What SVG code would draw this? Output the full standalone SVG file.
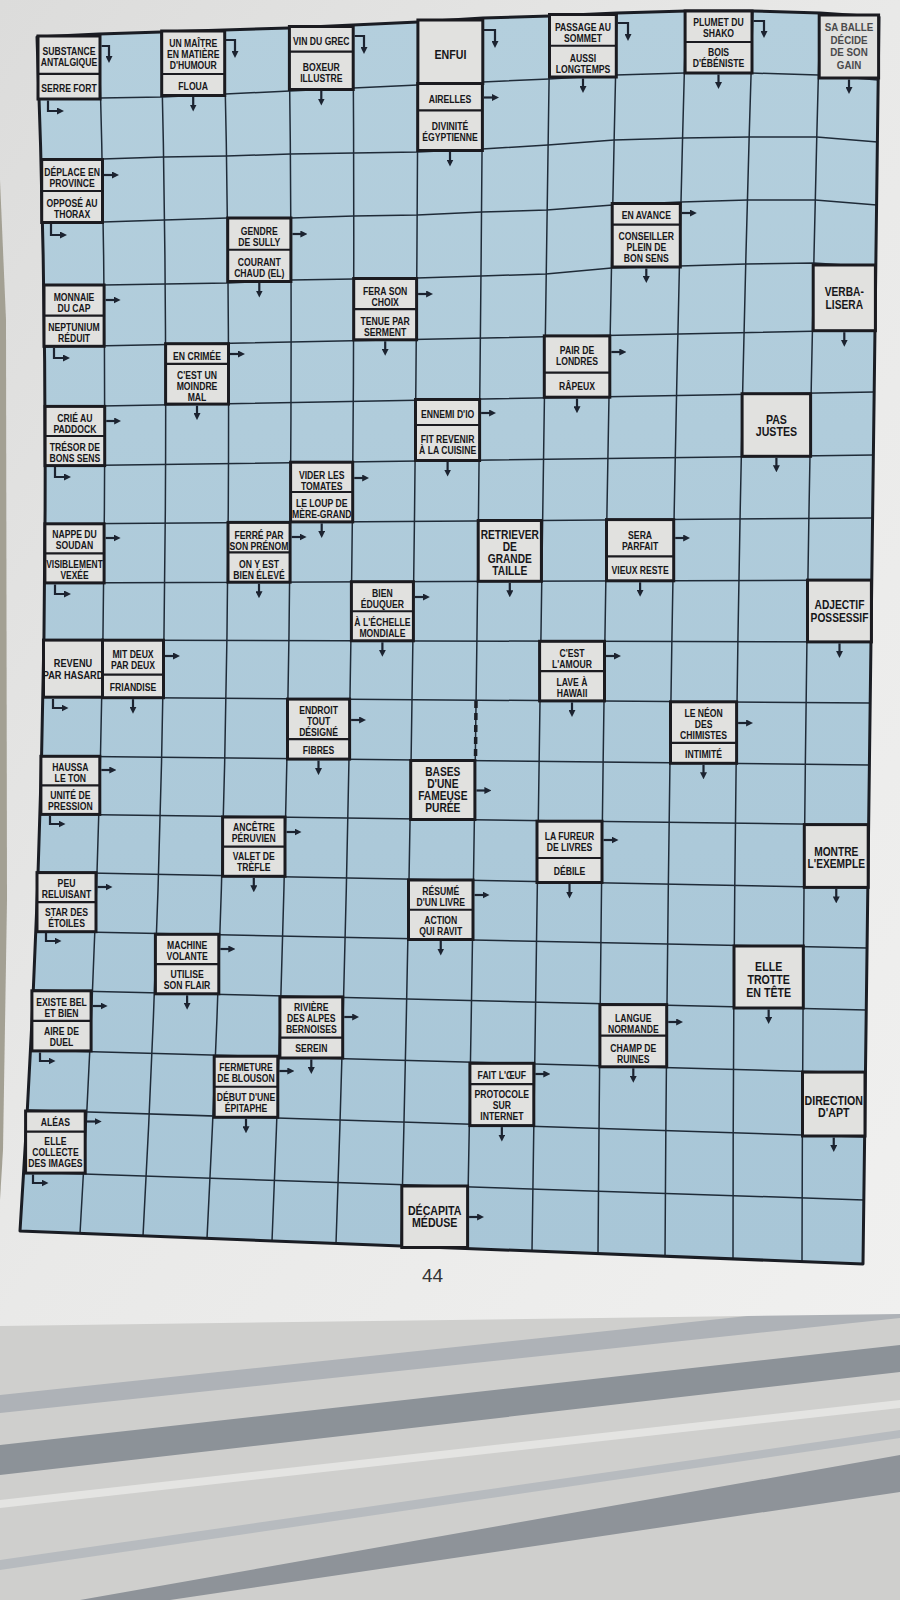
<svg xmlns="http://www.w3.org/2000/svg" width="900" height="1600" viewBox="0 0 900 1600">
<defs>
<linearGradient id="pg" x1="0" y1="0" x2="1" y2="1"><stop offset="0" stop-color="#dcdcdb"/><stop offset="0.5" stop-color="#e9e9e8"/><stop offset="1" stop-color="#f0f0ef"/></linearGradient>
<linearGradient id="bl" x1="0" y1="0" x2="0" y2="1"><stop offset="0" stop-color="#b4cfdd"/><stop offset="1" stop-color="#a8c6d7"/></linearGradient>
<marker id="ah" viewBox="0 0 10 10" refX="5" refY="5" markerWidth="7" markerHeight="7" markerUnits="userSpaceOnUse" orient="auto"><path d="M0,0 L10,5 L0,10 Z" fill="#1c2330"/></marker>
<style>
.gl{fill:none;stroke:#1f2b38;stroke-width:1.5}
.border{fill:none;stroke:#1a1d24;stroke-width:3;stroke-linejoin:round}
.box{fill:#e1e1df;stroke:#1b1b20;stroke-width:3}
.dv{stroke:#1b1b20;stroke-width:2.2}
.t{font-family:"Liberation Sans",Arial,sans-serif;font-weight:bold;font-size:10.8px;fill:#161619;text-anchor:middle;dominant-baseline:central}
.m{font-size:11.5px}
.b{font-size:12.5px}
.a{fill:none;stroke:#1c2330;stroke-width:2.2;marker-end:url(#ah)}
</style>
</defs>
<g id="background">
<rect width="900" height="1600" fill="#cfcfcd"/>
<polygon points="0,1395 900,1300 900,1318 0,1413" fill="#aeb2b7"/>
<polygon points="0,1445 900,1345 900,1372 0,1475" fill="#8c9298"/>
<polygon points="0,1500 900,1400 900,1408 0,1508" fill="#e4e4e2"/>
<polygon points="80,1600 900,1455 900,1492 170,1600" fill="#8e9399"/>
<polygon points="0,1560 900,1430 900,1438 0,1570" fill="#b7bbbf"/>
<path d="M0,0 H900 V1314 L0,1326 Z" fill="url(#pg)"/>
<polygon points="0,180 6,320 7,900 3,1150 0,1200" fill="#a3a093"/>
<text x="432.5" y="1282" font-family="Liberation Sans,Arial,sans-serif" font-size="19" fill="#333" text-anchor="middle">44</text>
</g>
<g id="grid">
<path d="M37,37 L99,34 L161,32 L224,30 L289,28 L353,25 L418,22 L483,18 L550,16 L617,13 L686,11 L753,11 L820,13 L879,17 Q871,640.5 863,1264 L20,1231 Q59.5,634 37,37 Z" fill="url(#bl)"/>
<path class="gl" d="M99,34 Q116.5,633.8 80,1233.5 M161,32 Q176,634 143,1236.1 M224,30 Q238.5,634.3 207,1238.6 M289,28 Q297.5,634.6 272,1241.2 M353,25 Q357.5,634.4 336,1243.7 M418,22 Q416.5,634.1 401,1246.2 M483,18 Q479,633.4 467,1248.8 M550,16 Q539,633.7 532,1251.3 M617,13 Q602.5,633.4 598,1253.8 M686,11 Q668.5,633.7 665,1256.4 M753,11 Q733,635 733,1258.9 M820,13 Q803,637.3 802,1261.5"/>
<path class="gl" d="M39,99 L100.6,98 L162.4,97 L225.3,94 L289.8,91 L353.4,88 L417.8,85 L482.6,82 L548.9,79 L615.6,75 L684.3,73 L751.1,73 L818.3,75 L878.2,80 M40.9,160 L102,159 L163.5,157 L226.4,156 L290.4,154 L353.6,153 L417.6,152 L482.1,149 L547.8,145 L614.2,140 L682.6,138 L749.2,137 L816.8,137 L877.4,142 M42.4,223 L103,222 L164.4,220 L227.3,218 L290.8,218 L353.8,216 L417.2,215 L481.6,212 L546.8,210 L612.9,205 L681.1,202 L747.5,200 L815.3,200 L876.6,205 M43.5,285 L103.8,285 L165.1,284 L228,283 L291,280 L353.8,279 L416.8,278 L481.1,276 L545.8,274 L611.6,268 L679.6,266 L745.8,264 L813.8,263 L875.8,267"/>
<path class="gl" d="M44.4,347 L875,330 M44.9,407 L874.2,392 M45.2,466 L873.4,455 M45.1,524 L872.6,518 M44.7,583 L871.8,580 M44,640 L871,642 M43,697 L870.2,703 M41.7,756 L869.4,765 M40.1,814 L868.6,825 M38.1,872 L867.8,888 M35.9,931 L867,948 M33.3,990 L866.2,1010 M30.5,1050 L865.4,1073 M27.3,1110 L864.6,1137 M23.8,1172 L863.8,1200"/>
<path class="border" d="M37,37 L99,34 L161,32 L224,30 L289,28 L353,25 L418,22 L483,18 L550,16 L617,13 L686,11 L753,11 L820,13 L879,17 Q871,640.5 863,1264 L20,1231 Q59.5,634 37,37 Z"/>
<path d="M476,701 L475.5,760" stroke="#1a1d24" stroke-width="3.5" stroke-dasharray="7 5" fill="none"/>
</g>
<g id="clue-c0-r0"><rect class="box" x="38" y="36" width="62" height="63"/><line class="dv" x1="38" y1="73.8" x2="100" y2="73.8"/><text class="t" transform="matrix(.8 0 0 1 69 0)"><tspan x="0" y="51">SUBSTANCE</tspan><tspan x="0" y="62">ANTALGIQUE</tspan></text><text class="t" transform="matrix(.8 0 0 1 69 0)"><tspan x="0" y="88">SERRE FORT</tspan></text></g>
<g id="clue-c2-r0"><rect class="box" x="161.7" y="31" width="63" height="64.5"/><line class="dv" x1="161.7" y1="74" x2="224.7" y2="74"/><text class="t" transform="matrix(.8 0 0 1 193.2 0)"><tspan x="0" y="43">UN MAÎTRE</tspan><tspan x="0" y="54">EN MATIÈRE</tspan><tspan x="0" y="65">D'HUMOUR</tspan></text><text class="t" transform="matrix(.8 0 0 1 193.2 0)"><tspan x="0" y="86">FLOUA</tspan></text></g>
<g id="clue-c4-r0"><rect class="box" x="289.4" y="26.5" width="63.8" height="63"/><line class="dv" x1="289.4" y1="51.7" x2="353.2" y2="51.7"/><text class="t" transform="matrix(.8 0 0 1 321.3 0)"><tspan x="0" y="40.6">VIN DU GREC</tspan></text><text class="t" transform="matrix(.8 0 0 1 321.3 0)"><tspan x="0" y="66.6">BOXEUR</tspan><tspan x="0" y="77.6">ILLUSTRE</tspan></text></g>
<g id="clue-c6-r0"><rect class="box" x="417.9" y="20" width="64.9" height="63.5"/><text class="t b" transform="matrix(.85 0 0 1 450.4 0)"><tspan x="0" y="53.5">ENFUI</tspan></text></g>
<g id="clue-c6-r1"><rect class="box" x="417.7" y="83.5" width="64.7" height="67"/><line class="dv" x1="417.7" y1="110.3" x2="482.4" y2="110.3"/><text class="t" transform="matrix(.8 0 0 1 450 0)"><tspan x="0" y="98.4">AIRELLES</tspan></text><text class="t" transform="matrix(.8 0 0 1 450 0)"><tspan x="0" y="126">DIVINITÉ</tspan><tspan x="0" y="137">ÉGYPTIENNE</tspan></text></g>
<g id="clue-c8-r0"><rect class="box" x="549.5" y="14.5" width="66.8" height="62.5"/><line class="dv" x1="549.5" y1="45.75" x2="616.3" y2="45.75"/><text class="t" transform="matrix(.8 0 0 1 583 0)"><tspan x="0" y="26.1">PASSAGE AU</tspan><tspan x="0" y="37.1">SOMMET</tspan></text><text class="t" transform="matrix(.8 0 0 1 583 0)"><tspan x="0" y="57.4">AUSSI</tspan><tspan x="0" y="68.4">LONGTEMPS</tspan></text></g>
<g id="clue-c10-r0"><rect class="box" x="685.1" y="11" width="66.9" height="62"/><line class="dv" x1="685.1" y1="42" x2="752" y2="42"/><text class="t" transform="matrix(.8 0 0 1 718.5 0)"><tspan x="0" y="22">PLUMET DU</tspan><tspan x="0" y="33">SHAKO</tspan></text><text class="t" transform="matrix(.8 0 0 1 718.5 0)"><tspan x="0" y="52">BOIS</tspan><tspan x="0" y="63">D'ÉBÉNISTE</tspan></text></g>
<g id="clue-c12-r0"><rect class="box" x="819.2" y="15" width="59.4" height="63"/><text class="t" transform="matrix(.85 0 0 1 849 0)" style="font-size:11.5px;fill:#4a4a4c"><tspan x="0" y="27">SA BALLE</tspan><tspan x="0" y="39.5">DÉCIDE</tspan><tspan x="0" y="52">DE SON</tspan><tspan x="0" y="64.5">GAIN</tspan></text></g>
<g id="clue-c0-r2"><rect class="box" x="41.7" y="159.5" width="60.8" height="63"/><line class="dv" x1="41.7" y1="191" x2="102.5" y2="191"/><text class="t" transform="matrix(.8 0 0 1 72.1 0)"><tspan x="0" y="172">DÉPLACE EN</tspan><tspan x="0" y="183">PROVINCE</tspan></text><text class="t" transform="matrix(.8 0 0 1 72.1 0)"><tspan x="0" y="203">OPPOSÉ AU</tspan><tspan x="0" y="214">THORAX</tspan></text></g>
<g id="clue-c3-r3"><rect class="box" x="227.7" y="218" width="63.2" height="63.5"/><line class="dv" x1="227.7" y1="249.75" x2="290.9" y2="249.75"/><text class="t" transform="matrix(.8 0 0 1 259.3 0)"><tspan x="0" y="230.5">GENDRE</tspan><tspan x="0" y="241.5">DE SULLY</tspan></text><text class="t" transform="matrix(.8 0 0 1 259.3 0)"><tspan x="0" y="261.6">COURANT</tspan><tspan x="0" y="272.6">CHAUD (EL)</tspan></text></g>
<g id="clue-c9-r3"><rect class="box" x="612.2" y="203.5" width="68.1" height="63.5"/><line class="dv" x1="612.2" y1="224.7" x2="680.3" y2="224.7"/><text class="t" transform="matrix(.8 0 0 1 646.3 0)"><tspan x="0" y="215">EN AVANCE</tspan></text><text class="t" transform="matrix(.8 0 0 1 646.3 0)"><tspan x="0" y="235.5">CONSEILLER</tspan><tspan x="0" y="246.5">PLEIN DE</tspan><tspan x="0" y="257.5">BON SENS</tspan></text></g>
<g id="clue-c0-r4"><rect class="box" x="44" y="285" width="60.1" height="61.3"/><line class="dv" x1="44" y1="315.7" x2="104.1" y2="315.7"/><text class="t" transform="matrix(.8 0 0 1 74 0)"><tspan x="0" y="296.3">MONNAIE</tspan><tspan x="0" y="307.3">DU CAP</tspan></text><text class="t" transform="matrix(.8 0 0 1 74 0)"><tspan x="0" y="327">NEPTUNIUM</tspan><tspan x="0" y="338">RÉDUIT</tspan></text></g>
<g id="clue-c5-r4"><rect class="box" x="353.7" y="278.5" width="62.9" height="61.3"/><line class="dv" x1="353.7" y1="309.2" x2="416.6" y2="309.2"/><text class="t" transform="matrix(.8 0 0 1 385.2 0)"><tspan x="0" y="290.5">FERA SON</tspan><tspan x="0" y="301.5">CHOIX</tspan></text><text class="t" transform="matrix(.8 0 0 1 385.2 0)"><tspan x="0" y="321">TENUE PAR</tspan><tspan x="0" y="332">SERMENT</tspan></text></g>
<g id="clue-c12-r4"><rect class="box" x="813.2" y="265" width="62.2" height="65.7"/><text class="t" transform="matrix(.85 0 0 1 844.3 0)" style="font-size:12px"><tspan x="0" y="292">VERBA-</tspan><tspan x="0" y="304.5">LISERA</tspan></text></g>
<g id="clue-c2-r5"><rect class="box" x="165.6" y="343.7" width="62.9" height="60.4"/><line class="dv" x1="165.6" y1="363.8" x2="228.5" y2="363.8"/><text class="t" transform="matrix(.8 0 0 1 197 0)"><tspan x="0" y="355.5">EN CRIMÉE</tspan></text><text class="t" transform="matrix(.8 0 0 1 197 0)"><tspan x="0" y="375">C'EST UN</tspan><tspan x="0" y="386">MOINDRE</tspan><tspan x="0" y="397">MAL</tspan></text></g>
<g id="clue-c8-r5"><rect class="box" x="544.3" y="335.9" width="65.5" height="61.3"/><line class="dv" x1="544.3" y1="372.7" x2="609.8" y2="372.7"/><text class="t" transform="matrix(.8 0 0 1 577 0)"><tspan x="0" y="349.5">PAIR DE</tspan><tspan x="0" y="360.5">LONDRES</tspan></text><text class="t" transform="matrix(.8 0 0 1 577 0)"><tspan x="0" y="386">RÂPEUX</tspan></text></g>
<g id="clue-c0-r6"><rect class="box" x="45.1" y="406.4" width="59.6" height="59.2"/><line class="dv" x1="45.1" y1="436" x2="104.7" y2="436"/><text class="t" transform="matrix(.8 0 0 1 74.9 0)"><tspan x="0" y="417.5">CRIÉ AU</tspan><tspan x="0" y="428.5">PADDOCK</tspan></text><text class="t" transform="matrix(.8 0 0 1 74.9 0)"><tspan x="0" y="446.5">TRÉSOR DE</tspan><tspan x="0" y="457.5">BONS SENS</tspan></text></g>
<g id="clue-c6-r6"><rect class="box" x="415.5" y="399.5" width="64.1" height="61"/><line class="dv" x1="415.5" y1="425" x2="479.6" y2="425"/><text class="t" transform="matrix(.8 0 0 1 447.6 0)"><tspan x="0" y="414">ENNEMI D'IO</tspan></text><text class="t" transform="matrix(.8 0 0 1 447.6 0)"><tspan x="0" y="439">FIT REVENIR</tspan><tspan x="0" y="450">À LA CUISINE</tspan></text></g>
<g id="clue-c11-r6"><rect class="box" x="742.1" y="393.7" width="68.5" height="62.6"/><text class="t b" transform="matrix(.85 0 0 1 776.4 0)"><tspan x="0" y="418.5">PAS</tspan><tspan x="0" y="431">JUSTES</tspan></text></g>
<g id="clue-c4-r7"><rect class="box" x="290.6" y="462.2" width="62.1" height="59.7"/><line class="dv" x1="290.6" y1="492" x2="352.7" y2="492"/><text class="t" transform="matrix(.8 0 0 1 321.7 0)"><tspan x="0" y="474.5">VIDER LES</tspan><tspan x="0" y="485.5">TOMATES</tspan></text><text class="t" transform="matrix(.8 0 0 1 321.7 0)"><tspan x="0" y="503">LE LOUP DE</tspan><tspan x="0" y="514">MÈRE-GRAND</tspan></text></g>
<g id="clue-c0-r8"><rect class="box" x="44.9" y="523.8" width="59.2" height="59.1"/><line class="dv" x1="44.9" y1="553.35" x2="104.1" y2="553.35"/><text class="t" transform="matrix(.8 0 0 1 74.5 0)"><tspan x="0" y="534">NAPPE DU</tspan><tspan x="0" y="545">SOUDAN</tspan></text><text class="t" transform="matrix(.78 0 0 1 74.5 0)"><tspan x="0" y="563.5">VISIBLEMENT</tspan><tspan x="0" y="574.5">VEXÉE</tspan></text></g>
<g id="clue-c3-r8"><rect class="box" x="228" y="522.4" width="62.1" height="59.8"/><line class="dv" x1="228" y1="552.3" x2="290.1" y2="552.3"/><text class="t" transform="matrix(.8 0 0 1 259 0)"><tspan x="0" y="534.5">FERRÉ PAR</tspan><tspan x="0" y="545.5">SON PRÉNOM</tspan></text><text class="t" transform="matrix(.8 0 0 1 259 0)"><tspan x="0" y="563.5">ON Y EST</tspan><tspan x="0" y="574.5">BIEN ÉLEVÉ</tspan></text></g>
<g id="clue-c7-r8"><rect class="box" x="478.2" y="520.5" width="63.2" height="60.8"/><text class="t" transform="matrix(.85 0 0 1 509.8 0)" style="font-size:12px"><tspan x="0" y="535">RETRIEVER</tspan><tspan x="0" y="547">DE</tspan><tspan x="0" y="559">GRANDE</tspan><tspan x="0" y="571">TAILLE</tspan></text></g>
<g id="clue-c9-r8"><rect class="box" x="606.5" y="519.6" width="67.2" height="61.2"/><line class="dv" x1="606.5" y1="556.3" x2="673.7" y2="556.3"/><text class="t" transform="matrix(.8 0 0 1 640.1 0)"><tspan x="0" y="535">SERA</tspan><tspan x="0" y="546">PARFAIT</tspan></text><text class="t" transform="matrix(.8 0 0 1 640.1 0)"><tspan x="0" y="569.5">VIEUX RESTE</tspan></text></g>
<g id="clue-c5-r9"><rect class="box" x="351.4" y="581.7" width="62" height="59.1"/><line class="dv" x1="351.4" y1="611.25" x2="413.4" y2="611.25"/><text class="t" transform="matrix(.8 0 0 1 382.4 0)"><tspan x="0" y="593">BIEN</tspan><tspan x="0" y="604">ÉDUQUER</tspan></text><text class="t" transform="matrix(.8 0 0 1 382.4 0)"><tspan x="0" y="622">À L'ÉCHELLE</tspan><tspan x="0" y="633">MONDIALE</tspan></text></g>
<g id="clue-c12-r9"><rect class="box" x="807.5" y="580.1" width="63.9" height="61.8"/><text class="t" transform="matrix(.85 0 0 1 839.5 0)" style="font-size:12px"><tspan x="0" y="605">ADJECTIF</tspan><tspan x="0" y="617.5">POSSESSIF</tspan></text></g>
<g id="clue-c0-r10"><rect class="box" x="43.5" y="640.1" width="59" height="57.1"/><text class="t m" transform="matrix(.8 0 0 1 73 0)"><tspan x="0" y="663">REVENU</tspan><tspan x="0" y="674.5">PAR HASARD</tspan></text></g>
<g id="clue-c1-r10"><rect class="box" x="102.5" y="640.2" width="61" height="57.5"/><line class="dv" x1="102.5" y1="674.7" x2="163.5" y2="674.7"/><text class="t" transform="matrix(.8 0 0 1 133 0)"><tspan x="0" y="653.5">MIT DEUX</tspan><tspan x="0" y="664.5">PAR DEUX</tspan></text><text class="t" transform="matrix(.8 0 0 1 133 0)"><tspan x="0" y="687">FRIANDISE</tspan></text></g>
<g id="clue-c8-r10"><rect class="box" x="539.6" y="641.3" width="64.9" height="59.6"/><line class="dv" x1="539.6" y1="671.1" x2="604.5" y2="671.1"/><text class="t" transform="matrix(.8 0 0 1 572 0)"><tspan x="0" y="652.5">C'EST</tspan><tspan x="0" y="663.5">L'AMOUR</tspan></text><text class="t" transform="matrix(.8 0 0 1 572 0)"><tspan x="0" y="682">LAVE À</tspan><tspan x="0" y="693">HAWAII</tspan></text></g>
<g id="clue-c4-r11"><rect class="box" x="287.5" y="699.1" width="62.1" height="60"/><line class="dv" x1="287.5" y1="739.1" x2="349.6" y2="739.1"/><text class="t" transform="matrix(.8 0 0 1 318.55 0)"><tspan x="0" y="710">ENDROIT</tspan><tspan x="0" y="721">TOUT</tspan><tspan x="0" y="732">DÉSIGNÉ</tspan></text><text class="t" transform="matrix(.8 0 0 1 318.55 0)"><tspan x="0" y="750">FIBRES</tspan></text></g>
<g id="clue-c10-r11"><rect class="box" x="670.5" y="701.8" width="66.1" height="61.5"/><line class="dv" x1="670.5" y1="742.8" x2="736.6" y2="742.8"/><text class="t" transform="matrix(.8 0 0 1 703.55 0)"><tspan x="0" y="713">LE NÉON</tspan><tspan x="0" y="724">DES</tspan><tspan x="0" y="735">CHIMISTES</tspan></text><text class="t" transform="matrix(.8 0 0 1 703.55 0)"><tspan x="0" y="754">INTIMITÉ</tspan></text></g>
<g id="clue-c0-r12"><rect class="box" x="40.9" y="756.3" width="58.9" height="58.1"/><line class="dv" x1="40.9" y1="785.35" x2="99.8" y2="785.35"/><text class="t" transform="matrix(.8 0 0 1 70.35 0)"><tspan x="0" y="766.5">HAUSSA</tspan><tspan x="0" y="777.5">LE TON</tspan></text><text class="t" transform="matrix(.8 0 0 1 70.35 0)"><tspan x="0" y="795">UNITÉ DE</tspan><tspan x="0" y="806">PRESSION</tspan></text></g>
<g id="clue-c6-r12"><rect class="box" x="410.7" y="760.5" width="64.2" height="59"/><text class="t" transform="matrix(.85 0 0 1 442.8 0)" style="font-size:12px"><tspan x="0" y="772">BASES</tspan><tspan x="0" y="784">D'UNE</tspan><tspan x="0" y="796">FAMEUSE</tspan><tspan x="0" y="808">PURÉE</tspan></text></g>
<g id="clue-c3-r13"><rect class="box" x="222.6" y="817" width="62.4" height="59.3"/><line class="dv" x1="222.6" y1="846.65" x2="285" y2="846.65"/><text class="t" transform="matrix(.8 0 0 1 253.8 0)"><tspan x="0" y="827">ANCÊTRE</tspan><tspan x="0" y="838">PÉRUVIEN</tspan></text><text class="t" transform="matrix(.8 0 0 1 253.8 0)"><tspan x="0" y="856">VALET DE</tspan><tspan x="0" y="867">TRÈFLE</tspan></text></g>
<g id="clue-c8-r13"><rect class="box" x="537" y="821.2" width="65" height="61.3"/><line class="dv" x1="537" y1="858" x2="602" y2="858"/><text class="t" transform="matrix(.8 0 0 1 569.5 0)"><tspan x="0" y="835.5">LA FUREUR</tspan><tspan x="0" y="846.5">DE LIVRES</tspan></text><text class="t" transform="matrix(.8 0 0 1 569.5 0)"><tspan x="0" y="870.5">DÉBILE</tspan></text></g>
<g id="clue-c12-r13"><rect class="box" x="804.3" y="824.6" width="63.9" height="62.8"/><text class="t" transform="matrix(.85 0 0 1 836.25 0)" style="font-size:12px"><tspan x="0" y="851.5">MONTRE</tspan><tspan x="0" y="864">L'EXEMPLE</tspan></text></g>
<g id="clue-c0-r14"><rect class="box" x="37" y="872.6" width="59" height="59.1"/><line class="dv" x1="37" y1="902.15" x2="96" y2="902.15"/><text class="t" transform="matrix(.8 0 0 1 66.5 0)"><tspan x="0" y="883">PEU</tspan><tspan x="0" y="894">RELUISANT</tspan></text><text class="t" transform="matrix(.8 0 0 1 66.5 0)"><tspan x="0" y="911.5">STAR DES</tspan><tspan x="0" y="922.5">ÉTOILES</tspan></text></g>
<g id="clue-c6-r14"><rect class="box" x="408.5" y="880" width="64.5" height="59.5"/><line class="dv" x1="408.5" y1="909.75" x2="473" y2="909.75"/><text class="t" transform="matrix(.8 0 0 1 440.75 0)"><tspan x="0" y="890.5">RÉSUMÉ</tspan><tspan x="0" y="901.5">D'UN LIVRE</tspan></text><text class="t" transform="matrix(.8 0 0 1 440.75 0)"><tspan x="0" y="919.5">ACTION</tspan><tspan x="0" y="930.5">QUI RAVIT</tspan></text></g>
<g id="clue-c2-r15"><rect class="box" x="155.4" y="934.3" width="63.4" height="59.5"/><line class="dv" x1="155.4" y1="964.05" x2="218.8" y2="964.05"/><text class="t" transform="matrix(.8 0 0 1 187.1 0)"><tspan x="0" y="944.5">MACHINE</tspan><tspan x="0" y="955.5">VOLANTE</tspan></text><text class="t" transform="matrix(.8 0 0 1 187.1 0)"><tspan x="0" y="974">UTILISE</tspan><tspan x="0" y="985">SON FLAIR</tspan></text></g>
<g id="clue-c11-r15"><rect class="box" x="734" y="946" width="69.3" height="62"/><text class="t b" transform="matrix(.85 0 0 1 768.65 0)"><tspan x="0" y="966">ELLE</tspan><tspan x="0" y="979">TROTTE</tspan><tspan x="0" y="992">EN TÊTE</tspan></text></g>
<g id="clue-c0-r16"><rect class="box" x="31.9" y="990.8" width="59.2" height="60.1"/><line class="dv" x1="31.9" y1="1020.85" x2="91.1" y2="1020.85"/><text class="t" transform="matrix(.8 0 0 1 61.5 0)"><tspan x="0" y="1001.5">EXISTE BEL</tspan><tspan x="0" y="1012.5">ET BIEN</tspan></text><text class="t" transform="matrix(.8 0 0 1 61.5 0)"><tspan x="0" y="1031">AIRE DE</tspan><tspan x="0" y="1042">DUEL</tspan></text></g>
<g id="clue-c4-r16"><rect class="box" x="279.9" y="996.9" width="62.8" height="61.1"/><line class="dv" x1="279.9" y1="1037.6" x2="342.7" y2="1037.6"/><text class="t" transform="matrix(.8 0 0 1 311.3 0)"><tspan x="0" y="1007">RIVIÈRE</tspan><tspan x="0" y="1018">DES ALPES</tspan><tspan x="0" y="1029">BERNOISES</tspan></text><text class="t" transform="matrix(.8 0 0 1 311.3 0)"><tspan x="0" y="1048">SEREIN</tspan></text></g>
<g id="clue-c9-r16"><rect class="box" x="599.9" y="1004.6" width="66.8" height="62.2"/><line class="dv" x1="599.9" y1="1035.7" x2="666.7" y2="1035.7"/><text class="t" transform="matrix(.8 0 0 1 633.3 0)"><tspan x="0" y="1017.5">LANGUE</tspan><tspan x="0" y="1028.5">NORMANDE</tspan></text><text class="t" transform="matrix(.8 0 0 1 633.3 0)"><tspan x="0" y="1048">CHAMP DE</tspan><tspan x="0" y="1059">RUINES</tspan></text></g>
<g id="clue-c3-r17"><rect class="box" x="214.2" y="1056.2" width="63.6" height="61.1"/><line class="dv" x1="214.2" y1="1086.75" x2="277.8" y2="1086.75"/><text class="t" transform="matrix(.8 0 0 1 246 0)"><tspan x="0" y="1066.5">FERMETURE</tspan><tspan x="0" y="1077.5">DE BLOUSON</tspan></text><text class="t" transform="matrix(.8 0 0 1 246 0)"><tspan x="0" y="1096.5">DÉBUT D'UNE</tspan><tspan x="0" y="1107.5">ÉPITAPHE</tspan></text></g>
<g id="clue-c7-r17"><rect class="box" x="469.9" y="1063.3" width="63.9" height="62.3"/><line class="dv" x1="469.9" y1="1084.1" x2="533.8" y2="1084.1"/><text class="t" transform="matrix(.8 0 0 1 501.85 0)"><tspan x="0" y="1075">FAIT L'ŒUF</tspan></text><text class="t" transform="matrix(.8 0 0 1 501.85 0)"><tspan x="0" y="1093.5">PROTOCOLE</tspan><tspan x="0" y="1104.5">SUR</tspan><tspan x="0" y="1115.5">INTERNET</tspan></text></g>
<g id="clue-c12-r17"><rect class="box" x="802.5" y="1072.1" width="62.5" height="63.9"/><text class="t b" transform="matrix(.85 0 0 1 833.75 0)"><tspan x="0" y="1099.5">DIRECTION</tspan><tspan x="0" y="1112">D'APT</tspan></text></g>
<g id="clue-c0-r18"><rect class="box" x="25.6" y="1111" width="59.6" height="62.1"/><line class="dv" x1="25.6" y1="1131.7" x2="85.2" y2="1131.7"/><text class="t" transform="matrix(.8 0 0 1 55.4 0)"><tspan x="0" y="1122">ALÉAS</tspan></text><text class="t" transform="matrix(.8 0 0 1 55.4 0)"><tspan x="0" y="1141">ELLE</tspan><tspan x="0" y="1152">COLLECTE</tspan><tspan x="0" y="1163">DES IMAGES</tspan></text></g>
<g id="clue-c6-r19"><rect class="box" x="401.8" y="1186" width="65.8" height="61.5"/><text class="t b" transform="matrix(.85 0 0 1 434.7 0)"><tspan x="0" y="1209.5">DÉCAPITA</tspan><tspan x="0" y="1222">MÉDUSE</tspan></text></g>
<g id="connectors">
<path class="a" d="M101.5,46 H109 V59.5"/>
<path class="a" d="M226,40 H235 V54.5"/>
<path class="a" d="M354.5,36 H364 V50.5"/>
<path class="a" d="M484,30 H495 V44.5"/>
<path class="a" d="M617.5,23 H628 V37.5"/>
<path class="a" d="M753.5,21 H764 V34.5"/>
<path class="a" d="M48,100.5 V111 H60.5"/>
<path class="a" d="M51,224 V235 H63.5"/>
<path class="a" d="M54,348 V358 H66.5"/>
<path class="a" d="M55,467 V477 H67.5"/>
<path class="a" d="M55,584.5 V594 H67.5"/>
<path class="a" d="M53,699 V708 H65"/>
<path class="a" d="M50,816 V824 H62"/>
<path class="a" d="M46,933 V941 H58"/>
<path class="a" d="M40,1052.5 V1061 H52"/>
<path class="a" d="M33,1174.5 V1183 H45"/>
<path class="a" d="M484,97.5 H495.5"/>
<path class="a" d="M104,175 H115.5"/>
<path class="a" d="M292.4,234 H303.9"/>
<path class="a" d="M681.8,213 H693.3"/>
<path class="a" d="M105.6,300 H117.1"/>
<path class="a" d="M418.1,294 H429.6"/>
<path class="a" d="M230,354 H241.5"/>
<path class="a" d="M611.3,352 H622.8"/>
<path class="a" d="M106.2,421 H117.7"/>
<path class="a" d="M481.1,413 H492.6"/>
<path class="a" d="M354.2,478 H365.7"/>
<path class="a" d="M105.6,538 H117.1"/>
<path class="a" d="M291.6,537 H303.1"/>
<path class="a" d="M675.2,538 H686.7"/>
<path class="a" d="M414.9,597 H426.4"/>
<path class="a" d="M165,656 H176.5"/>
<path class="a" d="M606,656 H617.5"/>
<path class="a" d="M351.1,720 H362.6"/>
<path class="a" d="M738.1,723 H749.6"/>
<path class="a" d="M101.3,770 H112.8"/>
<path class="a" d="M476.4,790.5 H487.9"/>
<path class="a" d="M286.5,832 H298"/>
<path class="a" d="M603.5,840 H615"/>
<path class="a" d="M97.5,887 H109"/>
<path class="a" d="M474.5,895 H486"/>
<path class="a" d="M220.3,949 H231.8"/>
<path class="a" d="M92.6,1006 H104.1"/>
<path class="a" d="M344.2,1017 H355.7"/>
<path class="a" d="M668.2,1022 H679.7"/>
<path class="a" d="M279.3,1071 H290.8"/>
<path class="a" d="M535.3,1074 H546.8"/>
<path class="a" d="M86.7,1121.5 H98.2"/>
<path class="a" d="M469.1,1217 H480.6"/>
<path class="a" d="M193.2,97 V108"/>
<path class="a" d="M321.3,91 V102"/>
<path class="a" d="M450,152 V163"/>
<path class="a" d="M583,78.5 V89.5"/>
<path class="a" d="M718.5,74.5 V85.5"/>
<path class="a" d="M849,79.5 V90.5"/>
<path class="a" d="M259.3,283 V294"/>
<path class="a" d="M646.3,268.5 V279.5"/>
<path class="a" d="M385.2,341.3 V352.3"/>
<path class="a" d="M844.3,332.2 V343.2"/>
<path class="a" d="M197,405.6 V416.6"/>
<path class="a" d="M577,398.7 V409.7"/>
<path class="a" d="M447.6,462 V473"/>
<path class="a" d="M776.4,457.8 V468.8"/>
<path class="a" d="M321.7,523.4 V534.4"/>
<path class="a" d="M259,583.7 V594.7"/>
<path class="a" d="M509.8,582.8 V593.8"/>
<path class="a" d="M640.1,582.3 V593.3"/>
<path class="a" d="M382.4,642.3 V653.3"/>
<path class="a" d="M839.5,643.4 V654.4"/>
<path class="a" d="M133,699.2 V710.2"/>
<path class="a" d="M572,702.4 V713.4"/>
<path class="a" d="M318.5,760.6 V771.6"/>
<path class="a" d="M703.5,764.8 V775.8"/>
<path class="a" d="M253.8,877.8 V888.8"/>
<path class="a" d="M569.5,884 V895"/>
<path class="a" d="M836.25,888.9 V899.9"/>
<path class="a" d="M440.75,941 V952"/>
<path class="a" d="M187.1,995.3 V1006.3"/>
<path class="a" d="M768.65,1009.5 V1020.5"/>
<path class="a" d="M311.3,1059.5 V1070.5"/>
<path class="a" d="M633.3,1068.3 V1079.3"/>
<path class="a" d="M246,1118.8 V1129.8"/>
<path class="a" d="M501.85,1127.1 V1138.1"/>
<path class="a" d="M833.75,1137.5 V1148.5"/>
</g>
</svg>
